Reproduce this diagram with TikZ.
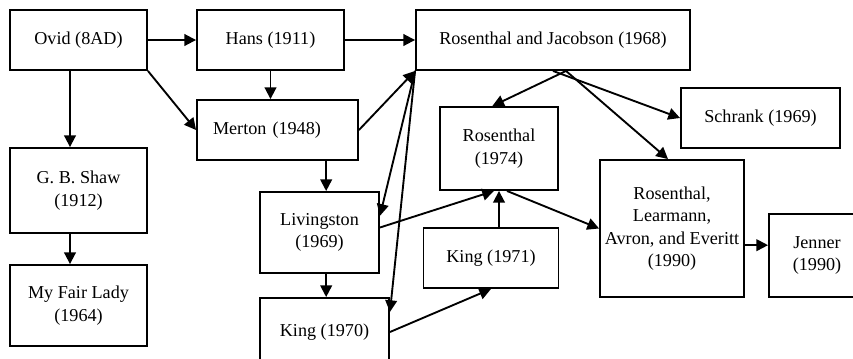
\documentclass[tikz,border=0pt]{standalone}
\usepackage{fontspec}
\setmainfont{Liberation Serif}
\usetikzlibrary{arrows.meta}
\begin{document}
\begin{tikzpicture}
  [x=0.03cm,y=-0.03cm,line width=1.6pt,>={Triangle[length=10pt,width=10pt]},
   every node/.style={draw,rectangle,line width=1.6pt,align=center,inner sep=0pt,
     font=\fontsize{15.5}{19}\selectfont}]
  \useasboundingbox (0,0) rectangle (853,358);

  \node[minimum width=4.11cm,minimum height=1.8cm] (ovid) at (78.5,40) {Ovid (8AD)};
  \node[minimum width=4.41cm,minimum height=1.8cm] (hans) at (270.5,40) {Hans (1911)};
  \node[minimum width=8.22cm,minimum height=1.8cm] (rj) at (553,40) {Rosenthal and Jacobson (1968)};
  \node[text width=3.87cm,inner xsep=0.48cm,align=left,minimum height=1.8cm] (merton) at (277.5,130) {Merton (1948)};
  \node[minimum width=4.11cm,minimum height=2.55cm] (shaw) at (78.5,190.5) {G. B. Shaw\\(1912)};
  \node[minimum width=4.11cm,minimum height=2.43cm] (mfl) at (78.5,305.5) {My Fair Lady\\(1964)};
  \node[minimum width=3.57cm,minimum height=2.43cm] (living) at (319.5,232.5) {Livingston\\(1969)};
  \node[minimum width=3.87cm,minimum height=2.04cm] (king70) at (324.5,332) {King (1970)};
  \node[minimum width=3.54cm,minimum height=2.49cm] (r74) at (499,148.5) {Rosenthal\\(1974)};
  \node[minimum width=4.77cm,minimum height=1.8cm] (schrank) at (760.5,118) {Schrank (1969)};
  \node[minimum width=4.32cm,minimum height=4.11cm] (rlae) at (672,228.5) {Rosenthal,\\Learmann,\\Avron, and Everitt\\(1990)};
  \node[minimum width=4.05cm,minimum height=1.8cm] (king71) at (491,258) {King (1971)};
  \node[minimum width=2.88cm,minimum height=2.49cm] (jenner) at (817,255.5) {Jenner\\(1990)};

  \foreach \from/\to in {ovid.east/hans.west,hans.east/rj.west,ovid.south east/merton.west,
      merton.east/rj.south west,king70.east/king71.south,rj.south/schrank.west}
    \draw[->] (\from) -- (\to);

  \draw[->] ([xshift=-0.255cm]ovid.south) -- ([xshift=-0.255cm]shaw.north);
  \draw[->] ([xshift=-0.255cm]shaw.south) -- ([xshift=-0.255cm]mfl.north);
  \draw[->] (hans.south) -- (hans.south |- merton.north);
  \draw[->] ([xshift=0.2cm]living.north |- merton.south) -- ([xshift=0.2cm]living.north);
  \draw[->] ([xshift=0.2cm]living.south) -- ([xshift=0.2cm]living.south |- king70.north);
  \draw[->] (rj.south west) -- ([yshift=0.5cm]living.east);
  \draw[->] (rj.south west) -- ([yshift=0.6cm]king70.east);
  \draw[->] ([yshift=0.15cm]living.east) -- ([xshift=-0.15cm]r74.south);
  \draw[->] (r74.south |- king71.north) -- (r74.south);
  \draw[->] ([xshift=0.24cm]r74.south) -- (rlae.west);
  \draw[->] ([xshift=0.39cm]rj.south) -- ([xshift=-0.2cm]r74.north);
  \draw[->] ([xshift=0.39cm]rj.south) -- ([xshift=-0.12cm]rlae.north);
  \draw[->] ([yshift=-0.5cm]rlae.east) -- ([yshift=-0.5cm]rlae.east -| jenner.west);

\end{tikzpicture}
\end{document}
